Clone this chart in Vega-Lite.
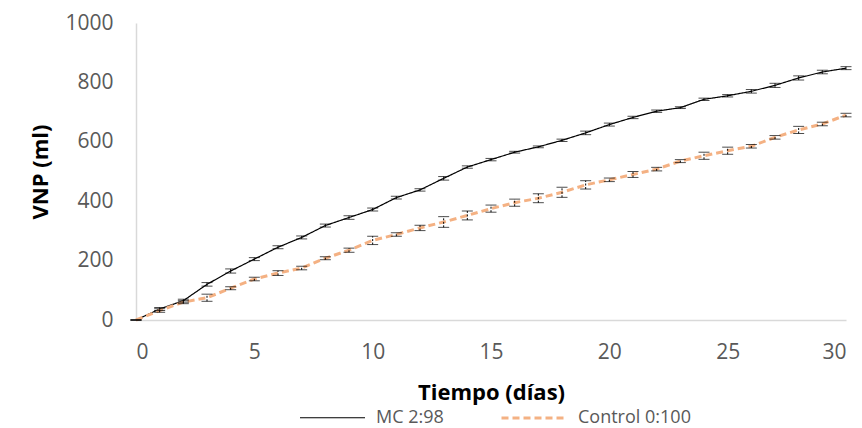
{
  "$schema": "https://vega.github.io/schema/vega-lite/v6.json",
  "width": 710,
  "height": 297,
  "autosize": {"type": "none"},
  "padding": {"left": 136, "top": 23, "right": 16, "bottom": 108},
  "background": "white",
  "config": {
    "view": {"stroke": null},
    "font": "Open Sans",
    "axis": {"grid": false, "ticks": false, "domainColor": "#d9d9d9", "domainWidth": 1.5, "labelColor": "#595959", "labelFontSize": 21, "labelFont": "Open Sans", "titleFont": "Open Sans", "titleFontSize": 22, "titleFontWeight": "bold", "titleColor": "#000000"}
  },
  "data": {"values": [
    {"day":0,"series":"MC 2:98","vnp":0,"err":0},
    {"day":1,"series":"MC 2:98","vnp":37,"err":5},
    {"day":2,"series":"MC 2:98","vnp":65,"err":5},
    {"day":3,"series":"MC 2:98","vnp":120,"err":6},
    {"day":4,"series":"MC 2:98","vnp":165,"err":7},
    {"day":5,"series":"MC 2:98","vnp":205,"err":5},
    {"day":6,"series":"MC 2:98","vnp":245,"err":5},
    {"day":7,"series":"MC 2:98","vnp":278,"err":5},
    {"day":8,"series":"MC 2:98","vnp":318,"err":5},
    {"day":9,"series":"MC 2:98","vnp":345,"err":6},
    {"day":10,"series":"MC 2:98","vnp":372,"err":5},
    {"day":11,"series":"MC 2:98","vnp":412,"err":5},
    {"day":12,"series":"MC 2:98","vnp":438,"err":4},
    {"day":13,"series":"MC 2:98","vnp":477,"err":6},
    {"day":14,"series":"MC 2:98","vnp":515,"err":4},
    {"day":15,"series":"MC 2:98","vnp":540,"err":4},
    {"day":16,"series":"MC 2:98","vnp":565,"err":3},
    {"day":17,"series":"MC 2:98","vnp":583,"err":3},
    {"day":18,"series":"MC 2:98","vnp":605,"err":4},
    {"day":19,"series":"MC 2:98","vnp":630,"err":6},
    {"day":20,"series":"MC 2:98","vnp":658,"err":5},
    {"day":21,"series":"MC 2:98","vnp":682,"err":4},
    {"day":22,"series":"MC 2:98","vnp":703,"err":4},
    {"day":23,"series":"MC 2:98","vnp":715,"err":3},
    {"day":24,"series":"MC 2:98","vnp":743,"err":4},
    {"day":25,"series":"MC 2:98","vnp":755,"err":4},
    {"day":26,"series":"MC 2:98","vnp":770,"err":6},
    {"day":27,"series":"MC 2:98","vnp":790,"err":7},
    {"day":28,"series":"MC 2:98","vnp":815,"err":7},
    {"day":29,"series":"MC 2:98","vnp":835,"err":6},
    {"day":30,"series":"MC 2:98","vnp":848,"err":5},
    {"day":0,"series":"Control 0:100","vnp":0,"err":0},
    {"day":1,"series":"Control 0:100","vnp":32,"err":6},
    {"day":2,"series":"Control 0:100","vnp":60,"err":5},
    {"day":3,"series":"Control 0:100","vnp":75,"err":12},
    {"day":4,"series":"Control 0:100","vnp":107,"err":5},
    {"day":5,"series":"Control 0:100","vnp":138,"err":6},
    {"day":6,"series":"Control 0:100","vnp":158,"err":8},
    {"day":7,"series":"Control 0:100","vnp":175,"err":6},
    {"day":8,"series":"Control 0:100","vnp":208,"err":5},
    {"day":9,"series":"Control 0:100","vnp":235,"err":7},
    {"day":10,"series":"Control 0:100","vnp":268,"err":14},
    {"day":11,"series":"Control 0:100","vnp":288,"err":6},
    {"day":12,"series":"Control 0:100","vnp":310,"err":9},
    {"day":13,"series":"Control 0:100","vnp":330,"err":18},
    {"day":14,"series":"Control 0:100","vnp":352,"err":15},
    {"day":15,"series":"Control 0:100","vnp":375,"err":12},
    {"day":16,"series":"Control 0:100","vnp":395,"err":12},
    {"day":17,"series":"Control 0:100","vnp":410,"err":15},
    {"day":18,"series":"Control 0:100","vnp":430,"err":17},
    {"day":19,"series":"Control 0:100","vnp":455,"err":14},
    {"day":20,"series":"Control 0:100","vnp":472,"err":6},
    {"day":21,"series":"Control 0:100","vnp":490,"err":10},
    {"day":22,"series":"Control 0:100","vnp":508,"err":6},
    {"day":23,"series":"Control 0:100","vnp":535,"err":5},
    {"day":24,"series":"Control 0:100","vnp":553,"err":12},
    {"day":25,"series":"Control 0:100","vnp":570,"err":12},
    {"day":26,"series":"Control 0:100","vnp":585,"err":6},
    {"day":27,"series":"Control 0:100","vnp":615,"err":6},
    {"day":28,"series":"Control 0:100","vnp":640,"err":12},
    {"day":29,"series":"Control 0:100","vnp":660,"err":6},
    {"day":30,"series":"Control 0:100","vnp":690,"err":6}
  ]},
  "transform": [
    {"calculate": "datum.vnp - datum.err", "as": "lo"},
    {"calculate": "datum.vnp + datum.err", "as": "hi"}
  ],
  "encoding": {
    "x": {"field": "day", "type": "quantitative", "scale": {"domain": [0, 30], "nice": false}, "axis": {"values": [0, 5, 10, 15, 20, 25, 30], "labelPadding": 21, "title": "Tiempo (días)", "titlePadding": 20}}
  },
  "layer": [
    {
      "mark": {"type": "line"},
      "encoding": {
        "y": {"field": "vnp", "type": "quantitative", "scale": {"domain": [0, 1000], "nice": false}, "axis": {"values": [0, 200, 400, 600, 800, 1000], "format": "d", "labelPadding": 23, "title": "VNP (ml)", "titlePadding": 12}},
        "color": {"field": "series", "type": "nominal", "scale": {"domain": ["MC 2:98", "Control 0:100"], "range": ["#000000", "#F4B183"]},
          "legend": {"title": null, "orient": "none", "direction": "horizontal", "legendX": 163, "legendY": 361, "symbolType": "stroke", "symbolSize": 4225, "symbolStrokeWidth": 2, "labelFontSize": 18, "labelColor": "#595959", "labelFont": "Open Sans", "columnPadding": 51, "labelOffset": 10}},
        "strokeWidth": {"field": "series", "type": "nominal", "scale": {"domain": ["MC 2:98", "Control 0:100"], "range": [1.2, 3]}, "legend": null},
        "strokeDash": {"field": "series", "type": "nominal", "scale": {"domain": ["MC 2:98", "Control 0:100"], "range": [[1, 0], [7, 4]]}},
        "order": {"field": "day", "type": "quantitative"}
      }
    },
    {
      "mark": {"type": "rule", "strokeWidth": 1, "color": "#000000"},
      "encoding": {
        "y": {"field": "lo", "type": "quantitative"},
        "y2": {"field": "hi"},
        "strokeDash": {"condition": {"test": "datum.series === 'Control 0:100'", "value": [2, 1.5]}, "value": [1, 0]}
      }
    },
    {
      "mark": {"type": "tick", "thickness": 1, "size": 11, "orient": "horizontal", "color": "#000000"},
      "encoding": {
        "y": {"field": "lo", "type": "quantitative"},
        "strokeDash": {"condition": {"test": "datum.series === 'Control 0:100'", "value": [2, 1.5]}, "value": [1, 0]}
      }
    },
    {
      "mark": {"type": "tick", "thickness": 1, "size": 11, "orient": "horizontal", "color": "#000000"},
      "encoding": {
        "y": {"field": "hi", "type": "quantitative"},
        "strokeDash": {"condition": {"test": "datum.series === 'Control 0:100'", "value": [2, 1.5]}, "value": [1, 0]}
      }
    }
  ]
}
